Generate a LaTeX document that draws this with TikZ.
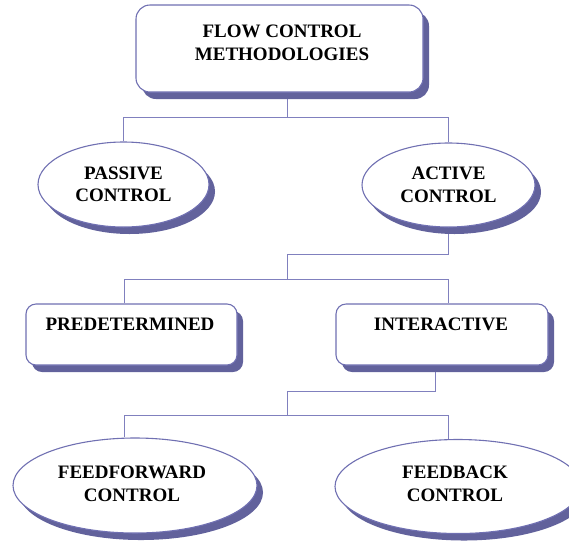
\documentclass[tikz,border=0pt]{standalone}
\usepackage{fontspec}
\setmainfont{Liberation Serif}
\usetikzlibrary{shapes.geometric,shadows,backgrounds,calc}
\definecolor{outl}{RGB}{112,112,178}
\definecolor{shadc}{RGB}{98,98,156}
\definecolor{linec}{RGB}{128,128,190}
\begin{document}
\begin{tikzpicture}[x=1pt,y=-1pt,
  dshadow/.style={drop shadow={shadow xshift=6pt,shadow yshift=-7pt,fill=shadc,opacity=1}},
  rbox/.style={draw=outl,line width=1.1pt,fill=white,rounded corners=#1,dshadow,inner sep=0pt},
  oval/.style={ellipse,draw=outl,line width=1.1pt,fill=white,dshadow,inner sep=0pt,align=center,font=\bfseries\fontsize{19}{22.5}\selectfont},
  lbl/.style={align=center,font=\bfseries\fontsize{19}{23}\selectfont,inner sep=0pt},
  conn/.style={draw=linec,line width=0.9pt}]
\useasboundingbox (0,0) rectangle (569,547);
\clip (0,0) rectangle (569,547);

\node[rbox=14pt, minimum width=287pt, minimum height=87pt] (top) at (279.5,48.5) {};
\node[lbl] (toptxt) at (282,42.5) {FLOW CONTROL\\METHODOLOGIES};

\node[oval, minimum width=171pt, minimum height=85pt] (passive) at (123.5,184.5) {PASSIVE\\CONTROL};
\node[oval, minimum width=173pt, minimum height=84pt] (active) at (448.5,185) {ACTIVE\\CONTROL};

\node[rbox=10pt, minimum width=211pt, minimum height=61pt] (pre) at (131.5,334.5) {};
\node[lbl] (pretxt) at (130,324.5) {PREDETERMINED};
\node[rbox=10pt, minimum width=212pt, minimum height=61pt] (inter) at (442,334.5) {};
\node[lbl] (intertxt) at (441,324.5) {INTERACTIVE};

\node[oval, minimum width=244pt, minimum height=95pt] (ff) at (135,485.5) {};
\node[lbl, text depth=0pt] (fftxt) at (132,483.5) {FEEDFORWARD\\CONTROL};
\node[oval, minimum width=246pt, minimum height=94pt] (fb) at (458,486.5) {};
\node[lbl] (fbtxt) at (455,483.5) {FEEDBACK\\CONTROL};

\begin{scope}[on background layer]
  \coordinate (j1) at (287,117);
  \draw[conn] (top.south -| j1) -- (j1);
  \draw[conn] (j1) -| (passive.north);
  \draw[conn] (j1) -| (active.north);
  \coordinate (j2) at (287,254);
  \coordinate (j3) at (287,279);
  \draw[conn] (active.south) |- (j2) -- (j3);
  \draw[conn] ([xshift=-7.5pt]pre.north) |- (j3);
  \draw[conn] (j3) -| ([xshift=6.5pt]inter.north);
  \coordinate (j4) at (287,391);
  \coordinate (j5) at (287,415);
  \draw[conn] ([xshift=-7pt]inter.south) |- (j4) -- (j5);
  \draw[conn] (j5) -| ([xshift=-11pt]ff.north);
  \draw[conn] (j5) -| ([xshift=-10pt]fb.north);
\end{scope}
\end{tikzpicture}
\end{document}
